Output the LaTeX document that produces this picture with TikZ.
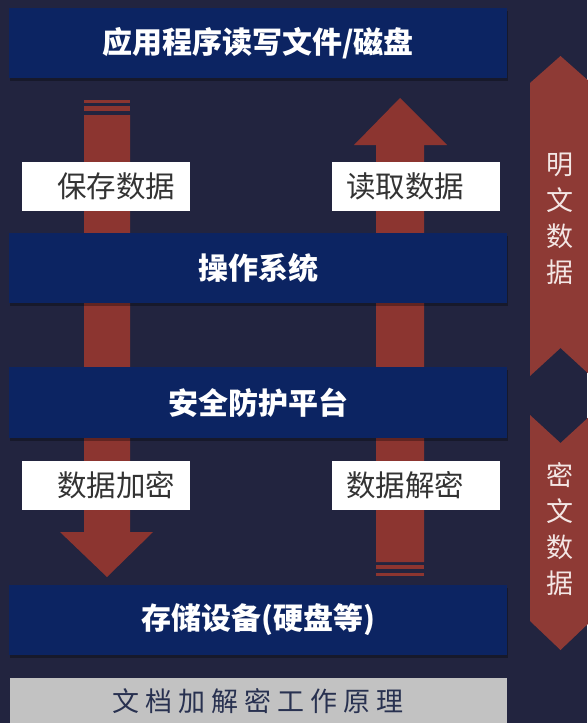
\documentclass[tikz,border=0pt]{standalone}
\usepackage{fontspec}
\newfontfamily\cjk{Noto Sans CJK SC}
\usetikzlibrary{shadows}
\definecolor{bgc}{HTML}{22243F}
\definecolor{boxc}{HTML}{0C2462}
\definecolor{arrc}{HTML}{8C3530}
\definecolor{ribc}{HTML}{8E3A35}
\definecolor{grayc}{HTML}{C2C2C2}
\definecolor{titlec}{HTML}{283150}
\definecolor{labc}{HTML}{333333}
\definecolor{ribtext}{HTML}{F3E6E4}
\tikzset{
  bluebox/.style={fill=boxc, draw=none, minimum width=498pt, minimum height=70pt, inner sep=0pt,
    drop shadow={fill=black, opacity=0.3, shadow xshift=1pt, shadow yshift=-3pt}},
  boxtext/.style={text=white, font=\cjk\bfseries\fontsize{30}{32}\selectfont, inner sep=0pt},
  whitebox/.style={fill=white, draw=none, minimum width=168pt, minimum height=49pt, inner sep=0pt},
  labtext/.style={text=labc, font=\cjk\fontsize{29.5}{31}\selectfont, inner sep=0pt},
  ribbontext/.style={text=ribtext, font=\cjk\fontsize{27}{36}\selectfont, align=center, inner sep=0pt},
  arrowfill/.style={fill=arrc, draw=none},
  ribbonfill/.style={fill=ribc, draw=none}
}
\begin{document}
\begin{tikzpicture}[x=1pt,y=-1pt]
\useasboundingbox (0,0) rectangle (587,723);
\fill[bgc] (0,0) rectangle (587,723);

% right ribbons
\fill[ribbonfill] (530,83) -- (560.5,56) -- (591,83) -- (591,376) -- (560.5,348) -- (530,376) -- cycle;
\fill[ribbonfill] (530,415) -- (560.5,443) -- (591,415) -- (591,621) -- (560.5,650) -- (530,621) -- cycle;
\node[ribbontext] (plain) at (560,219) {明\\文\\数\\据};
\node[ribbontext] (cipher) at (560,529.5) {密\\文\\数\\据};

% left arrow (down)
\fill[arrowfill] (84,100) rectangle (130,103);
\fill[arrowfill] (84,106) rectangle (130,111);
\fill[arrowfill] (84,115) -- (130,115) -- (130,532) -- (153,532) -- (107,577) -- (60,532) -- (84,532) -- cycle;

% right arrow (up)
\fill[arrowfill] (400,98) -- (447,145) -- (424,145) -- (424,562) -- (376,562) -- (376,145) -- (354,145) -- cycle;
\fill[arrowfill] (376,565) rectangle (424,569);
\fill[arrowfill] (376,573) rectangle (424,576);

% blue boxes
\node[bluebox] (app) at (258,43) {};
\node[boxtext] (appt) at (258,43) {应用程序读写文件/磁盘};
\node[bluebox] (os) at (258,268) {};
\node[boxtext] (ost) at (258,268) {操作系统};
\node[bluebox, minimum height=71pt] (sec) at (258,402.5) {};
\node[boxtext] (sect) at (258,402.5) {安全防护平台};
\node[bluebox] (disk) at (258,620) {};
\node[boxtext] (diskt) at (258,620) {存储设备(硬盘等)};

% white labels
\node[whitebox] (save) at (106,186.5) {};
\node[labtext] (savet) at (116,186.5) {保存数据};
\node[whitebox] (read) at (416,186.5) {};
\node[labtext] (readt) at (405,186.5) {读取数据};
\node[whitebox] (enc) at (106,485.5) {};
\node[labtext] (enct) at (116,485.5) {数据加密};
\node[whitebox] (dec) at (416,485.5) {};
\node[labtext] (dect) at (405,485.5) {数据解密};

% bottom title
\node[fill=grayc, draw=none, minimum width=497pt, minimum height=60pt, inner sep=0pt] (title) at (258.5,708) {};
\node[text=titlec, font=\cjk\fontsize{27}{29}\selectfont, inner sep=0pt] (titlet) at (258,701)
  {文\kern6pt 档\kern6pt 加\kern6pt 解\kern6pt 密\kern6pt 工\kern6pt 作\kern6pt 原\kern6pt 理};
\end{tikzpicture}
\end{document}
